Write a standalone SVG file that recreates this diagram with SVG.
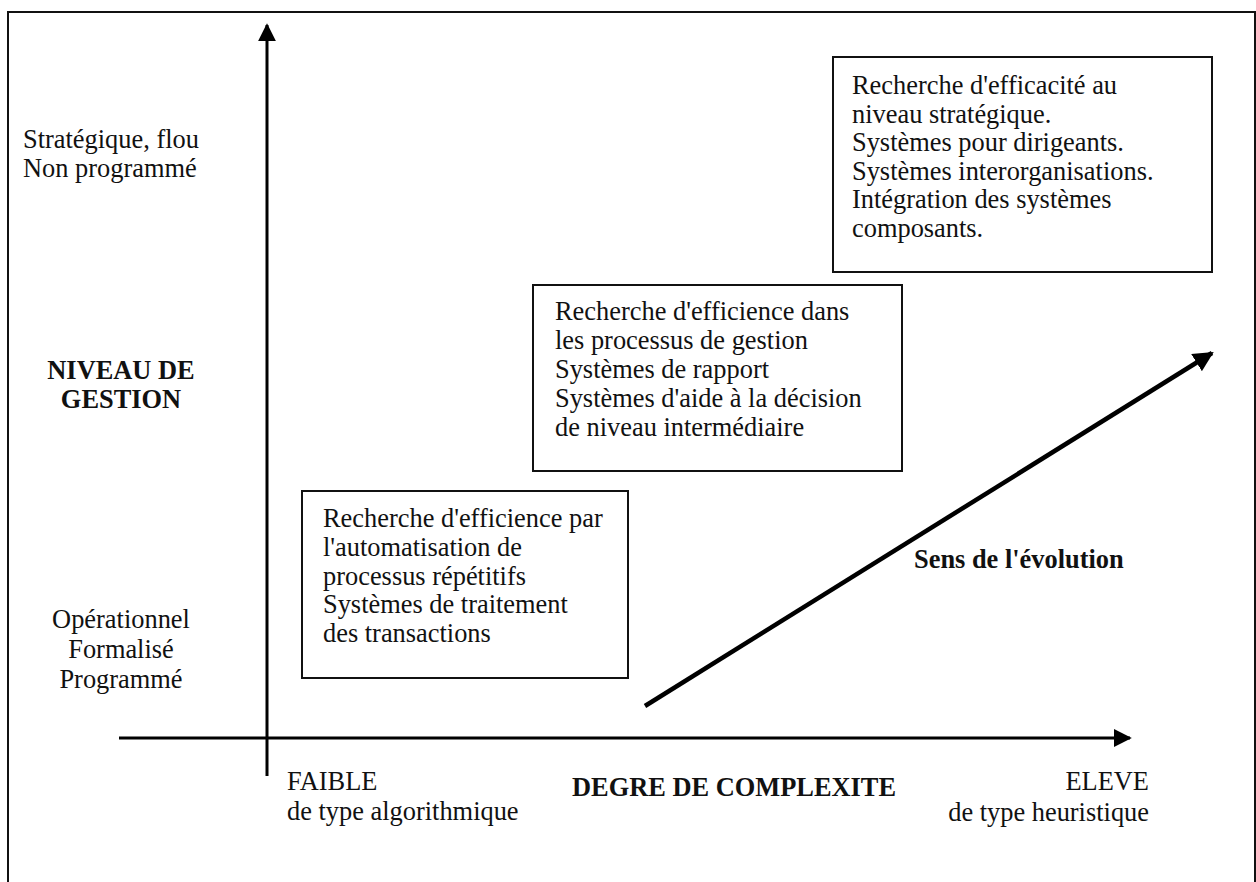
<svg xmlns="http://www.w3.org/2000/svg" width="1256" height="882" viewBox="0 0 1256 882">
<defs>
<style>
text{font-family:"Liberation Serif","Times New Roman",serif;font-size:26.4px;fill:#111}
.b{font-weight:bold}
.m{text-anchor:middle}
.e{text-anchor:end}
.box{fill:#fff;stroke:#111;stroke-width:2}
.axis{stroke:#000;stroke-width:3;fill:none}
</style>
<marker id="ah" viewBox="0 0 10 10" refX="9" refY="5" markerWidth="6" markerHeight="6" markerUnits="strokeWidth" orient="auto">
<path d="M0,0 L10,5 L0,10 z" fill="#000"/>
</marker>
<marker id="ah2" viewBox="0 0 10 10" refX="9" refY="5" markerWidth="4.5" markerHeight="4.5" markerUnits="strokeWidth" orient="auto">
<path d="M0,0 L10,5 L0,10 z" fill="#000"/>
</marker>
</defs>
<rect width="1256" height="882" fill="#fff"/>
<path d="M8,882 V12 H1255 V882" fill="none" stroke="#111" stroke-width="2"/>
<g id="connectors">
<line class="axis" x1="267" y1="776" x2="267" y2="25" marker-end="url(#ah)"/>
<line class="axis" x1="119" y1="738" x2="1130" y2="738" marker-end="url(#ah)"/>
<line x1="645" y1="706" x2="1212" y2="353" stroke="#000" stroke-width="4.5" marker-end="url(#ah2)"/>
</g>
<g id="labels">
<text x="23" y="148">Stratégique, flou</text>
<text x="23" y="177">Non programmé</text>
<text class="b m" x="121" y="379">NIVEAU DE</text>
<text class="b m" x="121" y="408">GESTION</text>
<text class="m" x="121" y="628">Opérationnel</text>
<text class="m" x="121" y="658">Formalisé</text>
<text class="m" x="121" y="688">Programmé</text>
<text x="287" y="790">FAIBLE</text>
<text x="287" y="820">de type algorithmique</text>
<text class="b" x="572" y="796">DEGRE DE COMPLEXITE</text>
<text class="e" x="1149" y="790">ELEVE</text>
<text class="e" x="1149" y="821">de type heuristique</text>
<text class="b" x="914" y="568">Sens de l'évolution</text>
</g>
<g id="box-strategique">
<rect class="box" x="833" y="57" width="379" height="215"/>
<text x="852" y="94">Recherche d'efficacité au</text>
<text x="852" y="122.5">niveau stratégique.</text>
<text x="852" y="151">Systèmes pour dirigeants.</text>
<text x="852" y="179.5">Systèmes interorganisations.</text>
<text x="852" y="208">Intégration des systèmes</text>
<text x="852" y="236.5">composants.</text>
</g>
<g id="box-gestion">
<rect class="box" x="533" y="285" width="369" height="186"/>
<text x="555" y="320">Recherche d'efficience dans</text>
<text x="555" y="349">les processus de gestion</text>
<text x="555" y="378">Systèmes de rapport</text>
<text x="555" y="407">Systèmes d'aide à la décision</text>
<text x="555" y="436">de niveau intermédiaire</text>
</g>
<g id="box-operationnel">
<rect class="box" x="302" y="491" width="326" height="187"/>
<text x="323" y="527">Recherche d'efficience par</text>
<text x="323" y="556">l'automatisation de</text>
<text x="323" y="585">processus répétitifs</text>
<text x="323" y="613">Systèmes de traitement</text>
<text x="323" y="642">des transactions</text>
</g>
</svg>
